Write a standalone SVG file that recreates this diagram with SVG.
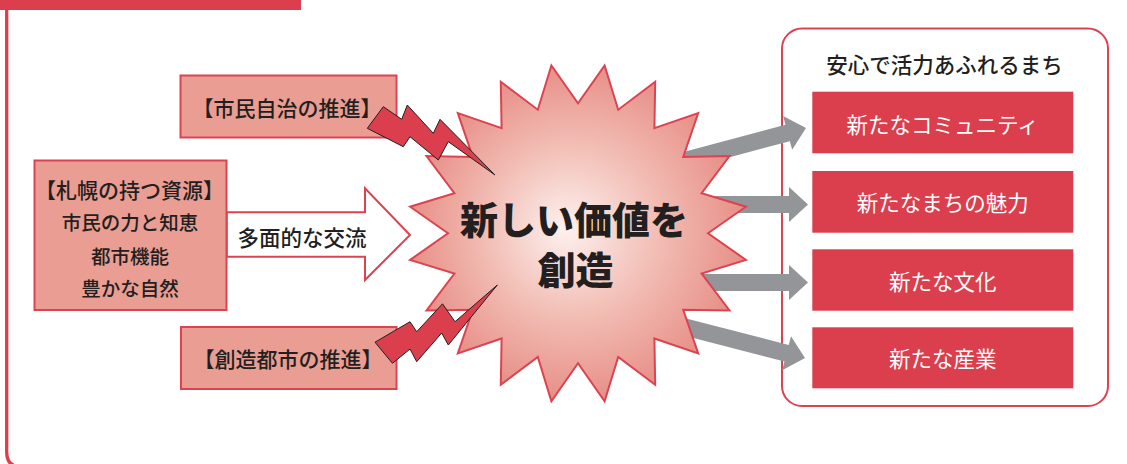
<svg xmlns="http://www.w3.org/2000/svg" width="1127" height="464" viewBox="0 0 1127 464">
<defs>
<style>
.t{font-family:"Noto Sans CJK JP","Noto Sans",sans-serif;text-anchor:middle;dominant-baseline:central;fill:#231f20;font-weight:500}
.w{fill:#ffffff;font-weight:400}
.big{font-weight:900;font-size:38px}
.sal{fill:#e99d93;stroke:#dc4350;stroke-width:2}
.red{fill:#db3e4c}
.bolt{fill:#db3e4c;stroke:#231f20;stroke-width:1;stroke-linejoin:miter}
.garrow{fill:#939598}
</style>
<radialGradient id="burst" cx="578" cy="233" r="170" gradientUnits="userSpaceOnUse" fx="565" fy="228">
<stop offset="0" stop-color="#fdf1ef"/>
<stop offset="0.5" stop-color="#f2beb5"/>
<stop offset="1" stop-color="#e78e86"/>
</radialGradient>
</defs>

<g id="frame">
<rect x="0" y="0" width="301" height="10" class="red"/>
<path d="M6.7,8 V452 Q6.7,467 21.7,467 H1127" fill="none" stroke="#db3e4c" stroke-width="3.3"/>
</g>

<g id="node-goal">
<rect x="782" y="28.5" width="326" height="377.5" rx="20" ry="20" fill="#ffffff" stroke="#dc4350" stroke-width="2"/>
<text class="t" x="944.5" y="63.5" font-size="21.5">安心で活力あふれるまち</text>
<rect class="red" x="812.3" y="91.7" width="261" height="61.6"/>
<text class="t w" x="942.7" y="123.3" font-size="21.5">新たなコミュニティ</text>
<rect class="red" x="812.3" y="171" width="261" height="61.7"/>
<text class="t w" x="942.7" y="201.5" font-size="21.5">新たなまちの魅力</text>
<rect class="red" x="812.3" y="249.3" width="261" height="61.4"/>
<text class="t w" x="942.7" y="280" font-size="21.5">新たな文化</text>
<rect class="red" x="812.3" y="327.3" width="261" height="61"/>
<text class="t w" x="942.7" y="357.5" font-size="21.5">新たな産業</text>
</g>

<g id="connectors">
<polygon points="226.7,212.3 365,212.3 365,188.3 410,235 365,280 365,256.7 226.7,256.7" fill="#ffffff" stroke="#dc4350" stroke-width="2" stroke-linejoin="miter"/>
<text class="t" x="302" y="236" font-size="21.5">多面的な交流</text>
<g transform="translate(806,128) rotate(-15)"><polygon class="garrow" points="-140,-8.5 -19,-8.5 -19,-17.5 0,0 -19,17.5 -19,8.5 -140,8.5"/></g>
<g transform="translate(808,204.5)"><polygon class="garrow" points="-140,-8.5 -19,-8.5 -19,-17.5 0,0 -19,17.5 -19,8.5 -140,8.5"/></g>
<g transform="translate(808,282.5)"><polygon class="garrow" points="-140,-8.5 -19,-8.5 -19,-17.5 0,0 -19,17.5 -19,8.5 -140,8.5"/></g>
<g transform="translate(805,358) rotate(14.5)"><polygon class="garrow" points="-140,-8.5 -19,-8.5 -19,-17.5 0,0 -19,17.5 -19,8.5 -140,8.5"/></g>
</g>

<g id="node-shimin">
<rect class="sal" x="180.5" y="75.5" width="216" height="62"/>
<text class="t" x="287" y="106.5" font-size="21">【市民自治の推進】</text>
</g>

<g id="node-shigen">
<rect class="sal" x="34.5" y="160.5" width="192" height="149.5"/>
<text class="t" x="129.5" y="188.5" font-size="21">【札幌の持つ資源】</text>
<text class="t" x="130" y="221.5" font-size="19.5">市民の力と知恵</text>
<text class="t" x="130" y="255" font-size="19.5">都市機能</text>
<text class="t" x="130" y="287" font-size="19.5">豊かな自然</text>
</g>

<g id="node-souzou">
<rect class="sal" x="181" y="327" width="215.5" height="62"/>
<text class="t" x="288" y="357.5" font-size="21">【創造都市の推進】</text>
</g>

<g id="node-burst">
<polygon fill="url(#burst)" stroke="#dc4350" stroke-width="2" stroke-linejoin="miter" points="708,233.3 745.9,206.7 701.6,193.1 729.5,156.1 683.2,156.9 698.2,113.1 654.4,128.1 655.2,81.8 618.2,109.7 604.6,65.4 578,103.3 551.4,65.4 537.8,109.7 500.8,81.8 501.6,128.1 457.8,113.1 472.8,156.9 426.5,156.1 454.4,193.1 410.1,206.7 448,233.3 410.1,259.9 454.4,273.5 426.5,310.5 472.8,309.7 457.8,353.5 501.6,338.5 500.8,384.8 537.8,356.9 551.4,401.2 578,363.3 604.6,401.2 618.2,356.9 655.2,384.8 654.4,338.5 698.2,353.5 683.2,309.7 729.5,310.5 701.6,273.5 745.9,259.9"/>
<text class="t big" x="574" y="217">新しい価値を</text>
<text class="t big" x="575.5" y="267">創造</text>
</g>

<g id="bolts">
<polygon class="bolt" points="367.3,128.3 383.3,106.7 401.7,119.3 407.3,105 433.3,133.3 440,119.3 495,175 448.3,141.7 438.3,160 410,136.7 403.3,146.7"/>
<polygon class="bolt" points="375,342.2 410,321.7 416.7,331.7 442.5,303.8 455,321.7 497.3,285 448.3,345 441.7,333 416.7,361.7 410,349 392.5,363.3"/>
</g>
</svg>
